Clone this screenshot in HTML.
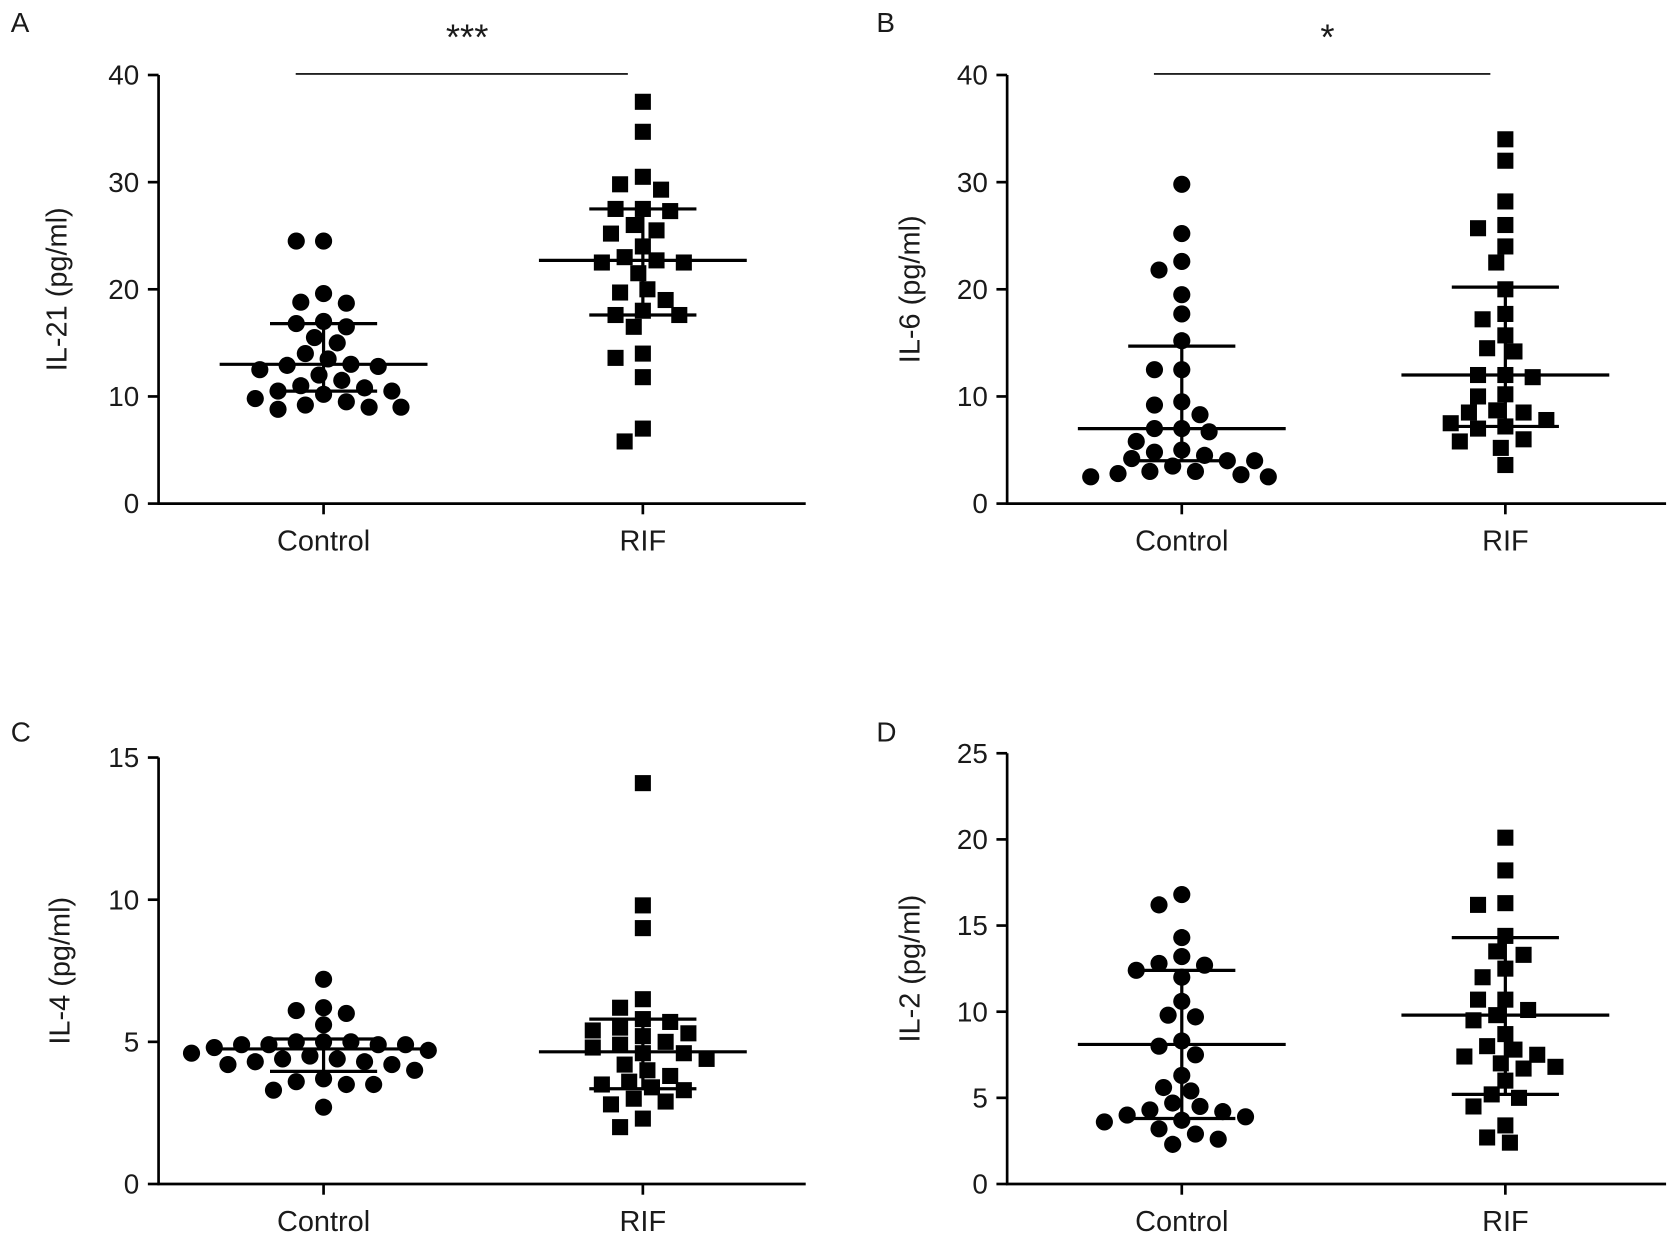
<!DOCTYPE html>
<html><head><meta charset="utf-8"><style>
html,body{margin:0;padding:0;background:#fff;}
svg{display:block;font-family:"Liberation Sans",Arial,sans-serif;}
</style></head><body>
<svg id="chart" width="1680" height="1244" viewBox="0 0 1568 1161" preserveAspectRatio="none" xmlns="http://www.w3.org/2000/svg"></svg>
<script>
// ---- Data ----
const categories = ["Control", "RIF"];
const panelLetters = ["A", "B", "C", "D"];
const yTitles = ["IL-21 (pg/ml)", "IL-6 (pg/ml)", "IL-4 (pg/ml)", "IL-2 (pg/ml)"];
const yMaxes = [40, 40, 15, 25];
const yTickSteps = [10, 10, 5, 5];
const sigLabels = ["***", "*", "", ""];

const controlA = [24.5,24.5,19.6,18.8,18.7,17,16.8,16.5,15.5,15,14,13.5,13,12.9,12.8,12.5,12,11.5,11,10.8,10.5,10.5,10.2,9.8,9.5,9.0,9.0,9.2,8.8];
const rifA = [37.5,34.7,30.5,29.8,29.3,27.5,27.5,27.3,26,25.5,25.2,24,23,22.7,22.5,22.5,21.5,20,19.7,19,18,17.6,17.6,16.5,14,13.6,11.8,7,5.8];
const controlB = [29.8,25.2,22.6,21.8,19.5,17.7,15.2,12.5,12.5,9.5,9.2,8.3,7,7,6.7,5.8,5,4.8,4.5,4.2,4,4,3.5,3,3,2.8,2.5,2.5,2.7];
const rifB = [34,32,28.2,26,25.7,24,22.5,20,17.7,17.2,15.7,14.5,14.2,12,12,11.8,10.2,10,8.7,8.5,8.5,7.8,7.5,7.2,7,6,5.8,5.2,3.6];
const controlC = [7.2,6.2,6.1,6,5.6,5,5,5,4.9,4.9,4.9,4.9,4.8,4.7,4.6,4.5,4.4,4.4,4.3,4.3,4.2,4.2,4.0,3.7,3.6,3.5,3.5,3.3,2.7];
const rifC = [14.1,9.8,9.0,6.5,6.2,5.8,5.7,5.4,5.3,5.2,5.0,4.9,4.6,4.6,4.4,4.0,3.8,3.5,3.4,3.3,3.0,2.9,2.8,2.3,2.0,4.2,3.6,5.5,4.8];
const controlD = [16.8,16.2,14.3,13.2,12.8,12.7,12.4,12.0,10.6,9.8,9.7,8.3,8.0,7.5,6.3,5.6,5.4,4.7,4.5,4.2,4.0,3.9,3.7,3.6,3.2,2.9,2.3,2.6,4.3];
const rifD = [20.1,18.2,16.3,16.2,14.4,13.5,13.3,12.5,12.0,10.7,10.7,10.1,9.8,9.5,8.7,8.0,7.8,7.5,7.4,6.7,6.0,5.2,5.0,4.5,3.4,2.7,2.4,7.0,6.8];
// mean, upper (mean+SD), lower (mean-SD)
const controlStats = [[13,16.8,10.5],[7,14.7,4],[4.75,5.1,3.96],[8.1,12.4,3.8]];
const rifStats = [[22.7,27.5,17.6],[12,20.2,7.2],[4.65,5.8,3.35],[9.8,14.3,5.2]];

const controlSeries = [controlA, controlB, controlC, controlD];
const rifSeries = [rifA, rifB, rifC, rifD];

// ---- Layout ----
const layout = [
  {ax:148, top:70, bot:470, right:752, cx:[302,600], lx:62, letter:[10,30]},
  {ax:940, top:70, bot:470, right:1555, cx:[1103,1405], lx:858, letter:[818,30]},
  {ax:148, top:707, bot:1105, right:752, cx:[302,600], lx:65, letter:[10,692]},
  {ax:940, top:703, bot:1105, right:1555, cx:[1103,1405], lx:858, letter:[818,692]}
];
const svg = document.getElementById('chart');
const NS = 'http://www.w3.org/2000/svg';
function mk(tag, attrs, parent){
  const e = document.createElementNS(NS, tag);
  for (const k in attrs) e.setAttribute(k, attrs[k]);
  (parent||svg).appendChild(e); return e;
}
function swarm(pys, r){
  const idx = pys.map((y,i)=>i).sort((a,b)=>pys[a]-pys[b]);
  const placed = []; const xs = new Array(pys.length);
  const sx = 2.6*r, sy = 1.8*r;
  for (const i of idx){
    const y = pys[i];
    for (let k=0;k<80;k++){
      const off = (k%2===0?1:-1)*Math.ceil(k/2)*r*0.5;
      let ok = true;
      for (const p of placed){ const dx=(p[0]-off)/sx, dy=(p[1]-y)/sy; if (dx*dx+dy*dy < 1){ok=false;break;} }
      if (ok){ xs[i]=off; placed.push([off,y]); break; }
    }
    if (xs[i]===undefined) xs[i]=0;
  }
  return xs;
}

layout.forEach((L, p) => {
  const g = mk('g', {});
  
  
  const yScale = v => L.bot - (v / yMaxes[p]) * (L.bot - L.top);
  const lt = mk('text', {x:L.letter[0], y:L.letter[1], 'font-size':26, fill:'#1a1a1a'}, g);
  lt.textContent = panelLetters[p];
  
  
  const ya = mk('line', {x1:L.ax, y1:L.top, x2:L.ax, y2:L.bot+1, stroke:'#000', 'stroke-width':2.5}, g);
  
  
  const xa = mk('line', {x1:L.ax-1, y1:L.bot, x2:L.right, y2:L.bot, stroke:'#000', 'stroke-width':2.5}, g);
  
  
  for (let v=0; v<=yMaxes[p]; v+=yTickSteps[p]){
    const y = yScale(v);
    const tk = mk('line', {x1:L.ax-10, y1:y, x2:L.ax, y2:y, stroke:'#000', 'stroke-width':2.5}, g);
    
    
    const tl = mk('text', {x:L.ax-18, y:y+9, 'font-size':26, 'text-anchor':'end', fill:'#1a1a1a'}, g);
    tl.textContent = v;
    
    
  }
  const yt = mk('text', {x:L.lx, y:(L.top+L.bot)/2, 'font-size':27, 'text-anchor':'middle', fill:'#1a1a1a', transform:`rotate(-90 ${L.lx} ${(L.top+L.bot)/2})`}, g);
  yt.textContent = yTitles[p];
  
  
  categories.forEach((c, ci) => {
    const cx = L.cx[ci];
    const tk = mk('line', {x1:cx, y1:L.bot, x2:cx, y2:L.bot+10, stroke:'#000', 'stroke-width':2.5}, g);
    
    
    const cl = mk('text', {x:cx, y:L.bot+44, 'font-size':27, 'text-anchor':'middle', fill:'#1a1a1a'}, g);
    cl.textContent = c;
    
    
    const vals = ci===0 ? controlSeries[p] : rifSeries[p];
    const pys = vals.map(yScale);
    const xs = swarm(pys, 8.5);
    vals.forEach((v, i) => {
      let m;
      if (ci===0) m = mk('circle', {cx:cx+xs[i], cy:pys[i], r:8, fill:'#000'}, g);
      else m = mk('rect', {x:cx+xs[i]-7.5, y:pys[i]-7.5, width:15, height:15, fill:'#000'}, g);
      
      
    });
    const st = ci===0 ? controlStats[p] : rifStats[p];
    const mean = mk('line', {x1:cx-97, y1:yScale(st[0]), x2:cx+97, y2:yScale(st[0]), stroke:'#000', 'stroke-width':3}, g);
    
    
    const eb = mk('line', {x1:cx, y1:yScale(st[1]), x2:cx, y2:yScale(st[2]), stroke:'#000', 'stroke-width':3}, g);
    
    
    [st[1], st[2]].forEach(v => {
      const cap = mk('line', {x1:cx-50, y1:yScale(v), x2:cx+50, y2:yScale(v), stroke:'#000', 'stroke-width':3}, g);
      
      
    });
  });
  if (sigLabels[p]) {
    const sb = mk('line', {x1:L.cx[0]-26, y1:69, x2:L.cx[1]-14, y2:69, stroke:'#000', 'stroke-width':1.5}, g);
    
    
    const sl = mk('text', {x:(L.cx[0]+L.cx[1])/2-15, y:46, 'font-size':34, 'text-anchor':'middle', fill:'#1a1a1a'}, g);
    sl.textContent = sigLabels[p];
    
    
  }
});
</script>
</body></html>
